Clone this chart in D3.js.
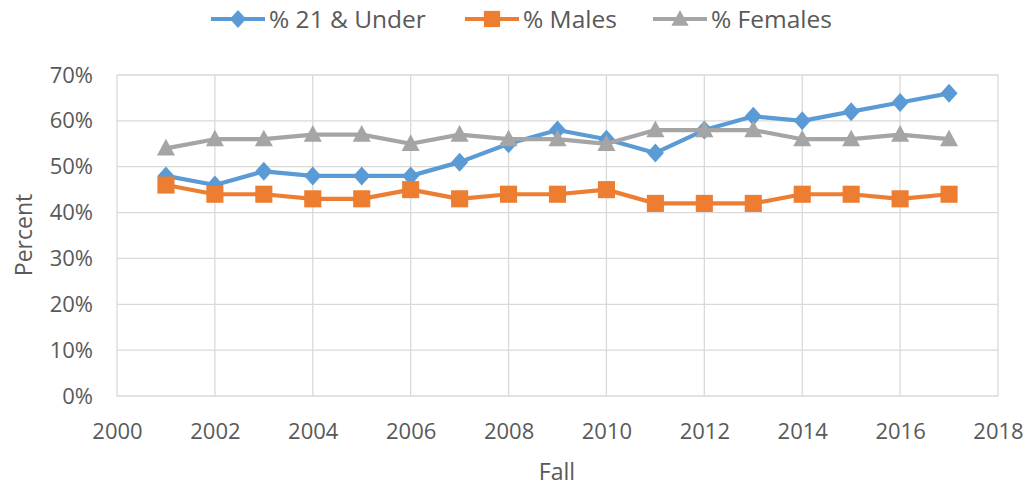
<!DOCTYPE html>
<html>
<head>
<meta charset="utf-8">
<script src="https://cdn.jsdelivr.net/npm/d3@7.9.0/dist/d3.min.js"></script>
<style>
  body { margin: 0; background: #fff; }
  svg text { font-family: "Open Sans", sans-serif; fill: #595959; }
</style>
</head>
<body>
<svg id="chart" width="1031" height="486"></svg>
<script>
// ===== data =====
const years     = [2001, 2002, 2003, 2004, 2005, 2006, 2007, 2008, 2009, 2010, 2011, 2012, 2013, 2014, 2015, 2016, 2017];
const under21   = [48, 46, 49, 48, 48, 48, 51, 55, 58, 56, 53, 58, 61, 60, 62, 64, 66];
const males     = [46, 44, 44, 43, 43, 45, 43, 44, 44, 45, 42, 42, 42, 44, 44, 43, 44];
const females   = [54, 56, 56, 57, 57, 55, 57, 56, 56, 55, 58, 58, 58, 56, 56, 57, 56];
const seriesNames = ['% 21 & Under', '% Males', '% Females'];
const xTicks    = [2000, 2002, 2004, 2006, 2008, 2010, 2012, 2014, 2016, 2018];
const yTicks    = [0, 10, 20, 30, 40, 50, 60, 70];

const series = [
  { name: seriesNames[0], values: under21, color: '#5B9BD5', shape: 'diamond' },
  { name: seriesNames[1], values: males,   color: '#ED7D31', shape: 'square' },
  { name: seriesNames[2], values: females, color: '#A5A5A5', shape: 'triangle' }
];

const svg = d3.select('#chart');
const plotL = 117, plotR = 998, plotT = 75, plotB = 396;

const x = d3.scaleLinear().domain([2000, 2018]).range([plotL, plotR]);
const y = d3.scaleLinear().domain([0, 70]).range([plotB, plotT]);

// gridlines
const grid = svg.append('g').attr('stroke', '#D9D9D9').attr('stroke-width', 1.3);
grid.selectAll('line.h').data(yTicks).join('line').attr('class', 'h')
  .attr('x1', plotL).attr('x2', plotR)
  .attr('y1', d => y(d)).attr('y2', d => y(d));
grid.selectAll('line.v').data(xTicks).join('line').attr('class', 'v')
  .attr('y1', plotT).attr('y2', plotB)
  .attr('x1', d => x(d)).attr('x2', d => x(d));

// axes (labels only, lines are the grid)
const xAxis = svg.append('g').attr('transform', `translate(0,${plotB})`)
  .call(d3.axisBottom(x).tickValues(xTicks).tickFormat(d3.format('d')).tickSize(0).tickPadding(27));
const yAxis = svg.append('g').attr('transform', `translate(${plotL},0)`)
  .call(d3.axisLeft(y).tickValues(yTicks).tickFormat(d => d + '%').tickSize(0).tickPadding(24));
[xAxis, yAxis].forEach(a => {
  a.select('.domain').remove();
  a.selectAll('text').attr('font-size', 22).attr('fill', '#595959')
    .attr('font-family', '"Open Sans", sans-serif');
});

// axis titles
svg.append('text').attr('x', 557).attr('y', 480).attr('text-anchor', 'middle')
  .attr('font-size', 23).text('Fall');
svg.append('text').attr('transform', 'translate(32,235) rotate(-90)')
  .attr('text-anchor', 'middle').attr('font-size', 23).text('Percent');

// markers
function marker(sel, shape, color, s) {
  if (shape === 'diamond') {
    sel.append('path').attr('d', `M0,${-s}L${s * 0.9},0L0,${s}L${-s * 0.9},0Z`).attr('fill', color);
  } else if (shape === 'square') {
    sel.append('rect').attr('x', -s * 0.9).attr('y', -s * 0.9)
      .attr('width', s * 1.8).attr('height', s * 1.8).attr('fill', color);
  } else {
    sel.append('path').attr('d', `M0,${-s}L${s * 0.95},${s * 0.75}L${-s * 0.95},${s * 0.75}Z`).attr('fill', color);
  }
}

const line = d3.line().x((d, i) => x(years[i])).y(d => y(d));

series.forEach(s => {
  const g = svg.append('g');
  g.append('path').attr('d', line(s.values)).attr('fill', 'none')
    .attr('stroke', s.color).attr('stroke-width', 4.2).attr('stroke-linejoin', 'round');
  g.selectAll('g.m').data(s.values).join('g')
    .attr('transform', (d, i) => `translate(${x(years[i])},${y(d)})`)
    .each(function () { marker(d3.select(this), s.shape, s.color, 9.5); });
});

// legend
const legendX = [211, 465, 653];
series.forEach((s, i) => {
  const g = svg.append('g').attr('transform', `translate(${legendX[i]},19)`);
  g.append('line').attr('x1', 0).attr('x2', 54).attr('stroke', s.color).attr('stroke-width', 4.2);
  const m = g.append('g').attr('transform', 'translate(27,0)');
  marker(m, s.shape, s.color, 9);
  g.append('text').attr('x', 58).attr('y', 8.5).attr('font-size', 24.5).text(s.name);
});
</script>
</body>
</html>
